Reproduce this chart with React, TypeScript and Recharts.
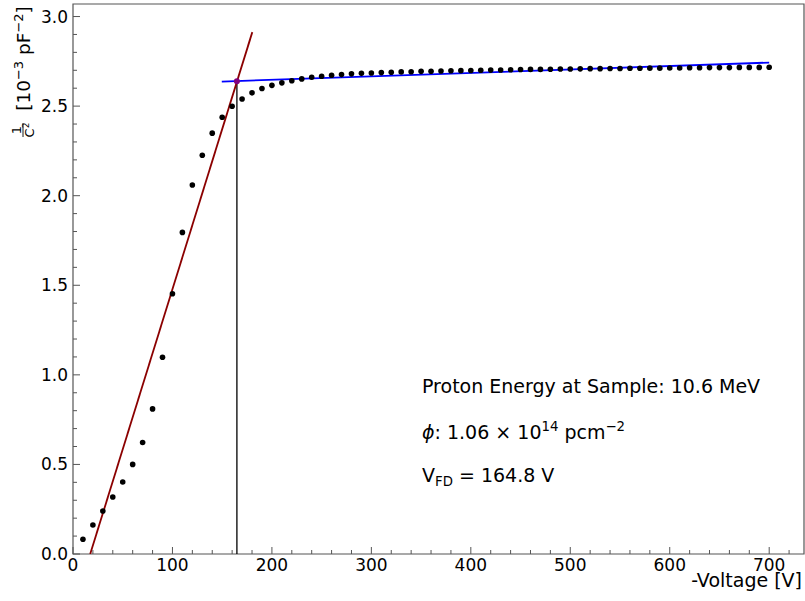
import React from 'react';
import { ComposedChart, Line, Scatter, XAxis, YAxis, ReferenceLine, ReferenceArea } from 'recharts';

// measured points, -V vs 1/C^2
const voltages = [
  10, 20, 30, 40, 50, 60, 70, 80, 90, 100,
  110, 120, 130, 140, 150, 160, 170, 180, 190, 200,
  210, 220, 230, 240, 250, 260, 270, 280, 290, 300,
  310, 320, 330, 340, 350, 360, 370, 380, 390, 400,
  410, 420, 430, 440, 450, 460, 470, 480, 490, 500,
  510, 520, 530, 540, 550, 560, 570, 580, 590, 600,
  610, 620, 630, 640, 650, 660, 670, 680, 690, 700,
];
const invC2 = [
  0.082, 0.162, 0.24, 0.318, 0.402, 0.5, 0.622, 0.81, 1.098, 1.453,
  1.795, 2.06, 2.226, 2.349, 2.438, 2.499, 2.54, 2.574, 2.598, 2.616,
  2.63, 2.642, 2.652, 2.661, 2.667, 2.672, 2.676, 2.68, 2.683, 2.685,
  2.687, 2.689, 2.691, 2.692, 2.694, 2.695, 2.696, 2.697, 2.698, 2.699,
  2.7, 2.701, 2.702, 2.703, 2.704, 2.705, 2.705, 2.706, 2.707, 2.707,
  2.708, 2.709, 2.709, 2.71, 2.71, 2.711, 2.711, 2.712, 2.712, 2.713,
  2.713, 2.714, 2.714, 2.715, 2.715, 2.715, 2.716, 2.716, 2.716, 2.717,
];

// linear fits (rising edge and plateau)
const riseFit = [
  { x: 17.3, y: 0 },
  { x: 180.3, y: 2.913 },
];
const plateauFit = [
  { x: 149.6, y: 2.637 },
  { x: 700, y: 2.743 },
];

const vfd = 164.8;
const vfdY = 2.639;

const xTicks = [
  0, 20, 40, 60, 80, 100, 120, 140, 160, 180, 200, 220, 240, 260, 280, 300,
  320, 340, 360, 380, 400, 420, 440, 460, 480, 500, 520, 540, 560, 580, 600,
  620, 640, 660, 680, 700, 720,
];
const yTicks = [
  0, 0.1, 0.2, 0.3, 0.4, 0.5, 0.6, 0.7, 0.8, 0.9, 1.0, 1.1, 1.2, 1.3, 1.4, 1.5,
  1.6, 1.7, 1.8, 1.9, 2.0, 2.1, 2.2, 2.3, 2.4, 2.5, 2.6, 2.7, 2.8, 2.9, 3.0,
];

const points = voltages.map((x, i) => ({ x, y: invC2[i] }));

const FONT = '"DejaVu Sans", sans-serif';
const AXIS = '#555';

const XTick = (props: any) => {
  const { x, y, payload } = props;
  const v = payload.value;
  const major = v % 100 === 0;
  return (
    <g>
      <line x1={x} x2={x} y1={y} y2={y - (major ? 7 : 4)} stroke={AXIS} strokeWidth={1} />
      {major && (
        <text x={x} y={y + 17} textAnchor="middle" fontSize={17} fontFamily={FONT} fill="#000">
          {v}
        </text>
      )}
    </g>
  );
};

const YTick = (props: any) => {
  const { x, y, payload } = props;
  const v = payload.value;
  const major = Math.abs(v * 2 - Math.round(v * 2)) < 1e-6;
  return (
    <g>
      <line x1={x} x2={x + (major ? 7 : 4)} y1={y} y2={y} stroke={AXIS} strokeWidth={1} />
      {major && (
        <text x={x - 5} y={y + 6} textAnchor="end" fontSize={17} fontFamily={FONT} fill="#000">
          {v.toFixed(1)}
        </text>
      )}
    </g>
  );
};

const Dot = (props: any) => <circle cx={props.cx} cy={props.cy} r={2.8} fill="#000" />;
const VfdDot = (props: any) => <circle cx={props.cx} cy={props.cy} r={3} fill="#800080" />;

export default function App() {
  return (
    <div style={{ position: 'absolute', left: 0, top: 0, width: 805, height: 601, background: '#fff' }}>
      <ComposedChart width={805} height={601} margin={{ top: 4, right: 1, bottom: 0, left: 0 }}>
        <XAxis
          dataKey="x"
          type="number"
          domain={[0, 735]}
          allowDataOverflow
          ticks={xTicks}
          interval={0}
          tick={<XTick />}
          tickLine={false}
          tickSize={0}
          tickMargin={0}
          axisLine={false}
          height={47}
        />
        <YAxis
          type="number"
          domain={[0, 3.07]}
          allowDataOverflow
          ticks={yTicks}
          interval={0}
          tick={<YTick />}
          tickLine={false}
          tickSize={0}
          tickMargin={0}
          axisLine={false}
          width={73}
        />
        <ReferenceArea x1={0} x2={735} y1={0} y2={3.07} fill="none" stroke={AXIS} strokeWidth={1.2} />
        <ReferenceLine
          segment={[
            { x: vfd, y: 0 },
            { x: vfd, y: vfdY },
          ]}
          stroke="#000"
          strokeWidth={1.3}
        />
        <Scatter data={points} dataKey="y" shape={<Dot />} isAnimationActive={false} />
        <Line
          data={riseFit}
          dataKey="y"
          type="linear"
          stroke="#8b0000"
          strokeWidth={1.8}
          dot={false}
          activeDot={false}
          isAnimationActive={false}
        />
        <Line
          data={plateauFit}
          dataKey="y"
          type="linear"
          stroke="#0000ff"
          strokeWidth={1.8}
          dot={false}
          activeDot={false}
          isAnimationActive={false}
        />
        <Scatter data={[{ x: vfd, y: vfdY }]} dataKey="y" shape={<VfdDot />} isAnimationActive={false} />
      </ComposedChart>
      <svg
        width={805}
        height={601}
        style={{ position: 'absolute', left: 0, top: 0, pointerEvents: 'none' }}
        fontFamily={FONT}
      >
        <g transform="translate(30,58.5) rotate(-90)">
          <text textAnchor="middle" fontSize={18.5} fill="#000">
            [10
            <tspan dy={-7.5} fontSize={13}>−3</tspan>
            <tspan dy={7.5}> pF</tspan>
            <tspan dy={-7.5} fontSize={13}>−2</tspan>
            <tspan dy={7.5}>]</tspan>
          </text>
        </g>
        <g transform="translate(23,130) rotate(-90)">
          <text x={0} y={-2} textAnchor="middle" fontSize={13} fill="#000">1</text>
          <line x1={-7} x2={7} y1={0} y2={0} stroke="#000" strokeWidth={0.9} />
          <text x={0} y={10.5} textAnchor="middle" fontSize={13} fill="#000">
            C<tspan dy={-4.5} fontSize={9}>2</tspan>
          </text>
        </g>
        <text x={802} y={587} textAnchor="end" fontSize={19} fill="#000">-Voltage [V]</text>
        <text x={422} y={393} fontSize={19} fill="#000">Proton Energy at Sample: 10.6 MeV</text>
        <text x={422} y={439} fontSize={19} fill="#000">
          <tspan fontStyle="italic">ϕ</tspan>
          <tspan>: 1.06 × 10</tspan>
          <tspan dy={-8} fontSize={13.3}>14</tspan>
          <tspan dy={8}> pcm</tspan>
          <tspan dy={-8} fontSize={13.3}>−2</tspan>
        </text>
        <text x={422} y={482} fontSize={19} fill="#000">
          V<tspan dy={4} fontSize={13.3}>FD</tspan>
          <tspan dy={-4}> = 164.8 V</tspan>
        </text>
      </svg>
    </div>
  );
}
